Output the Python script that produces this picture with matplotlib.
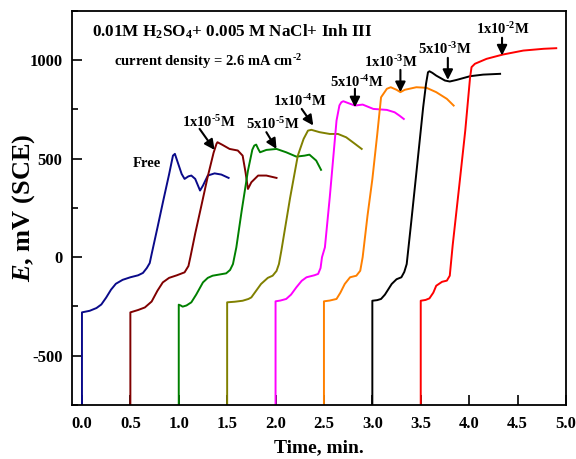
import numpy as np
import matplotlib
matplotlib.use('Agg')
import matplotlib.pyplot as plt
from matplotlib.ticker import MultipleLocator

#######################################################################
# Data (time in min, potential in mV vs SCE)

t_free = [0.0, 0.0, 0.08, 0.15, 0.2, 0.25, 0.3, 0.35, 0.42, 0.5, 0.58, 0.63, 0.67,
          0.70, 0.72, 0.78, 0.84, 0.90, 0.94, 0.96, 0.99, 1.03, 1.06, 1.10, 1.13,
          1.17, 1.22, 1.25, 1.30, 1.37, 1.44, 1.515]
e_free = [-750, -280, -272, -258, -240, -205, -165, -135, -115, -102, -92, -80, -55,
          -30, 16, 150, 287, 420, 515, 524, 480, 422, 397, 410, 414,
          397, 338, 363, 414, 425, 419, 402]

t_1e5 = [0.5, 0.5, 0.58, 0.65, 0.72, 0.78, 0.835, 0.9, 0.98, 1.06, 1.10, 1.12, 1.17,
         1.23, 1.30, 1.36, 1.39, 1.40, 1.45, 1.525, 1.61, 1.66, 1.69, 1.715, 1.75,
         1.82, 1.905, 2.01]
e_1e5 = [-750, -280, -268, -255, -225, -170, -128, -105, -92, -77, -45, 0, 120,
         253, 410, 530, 575, 583, 570, 549, 541, 515, 430, 346, 380,
         414, 414, 402]

t_5e5 = [1.0, 1.0, 1.02, 1.04, 1.08, 1.13, 1.18, 1.25, 1.30, 1.35, 1.42, 1.49, 1.53,
         1.56, 1.595, 1.65, 1.715, 1.76, 1.78, 1.80, 1.82, 1.84, 1.905, 2.01, 2.11,
         2.215, 2.30, 2.35, 2.42, 2.47]
e_5e5 = [-750, -241, -245, -251, -245, -229, -190, -128, -105, -94, -88, -82, -65,
         -35, 50, 235, 439, 545, 566, 571, 550, 532, 544, 549, 532,
         510, 515, 520, 490, 443]

t_1e4 = [1.5, 1.5, 1.58, 1.66, 1.72, 1.75, 1.80, 1.85, 1.92, 1.97, 2.01, 2.035, 2.06,
         2.15, 2.23, 2.29, 2.335, 2.37, 2.455, 2.56, 2.645, 2.73, 2.82, 2.89]
e_1e4 = [-750, -229, -226, -221, -212, -204, -170, -136, -105, -94, -70, -35, 33,
         300, 515, 600, 642, 646, 634, 625, 625, 608, 575, 549]

t_5e4 = [2.0, 2.0, 2.05, 2.11, 2.16, 2.215, 2.27, 2.32, 2.40, 2.44, 2.465, 2.48, 2.51,
         2.56, 2.63, 2.66, 2.68, 2.70, 2.77, 2.82, 2.90, 3.01, 3.15, 3.23, 3.28, 3.325]
e_5e4 = [-750, -224, -220, -212, -190, -153, -120, -102, -92, -85, -55, 0, 50,
         303, 693, 770, 786, 791, 778, 769, 774, 752, 747, 735, 718, 701]

t_1e3 = [2.5, 2.5, 2.56, 2.63, 2.67, 2.715, 2.77, 2.835, 2.875, 2.90, 2.95, 3.00,
         3.05, 3.09, 3.15, 3.19, 3.25, 3.29, 3.335, 3.455, 3.56, 3.66, 3.77, 3.84]
e_1e3 = [-750, -224, -220, -212, -180, -136, -102, -94, -69, 0, 210, 395,
         620, 811, 854, 862, 849, 837, 849, 862, 859, 837, 803, 769]

t_5e3 = [3.0, 3.0, 3.05, 3.09, 3.13, 3.20, 3.25, 3.30, 3.33, 3.355, 3.40, 3.45,
         3.525, 3.555, 3.575, 3.59, 3.62, 3.66, 3.75, 3.80, 3.87, 4.01, 4.145, 4.32]
e_5e3 = [-750, -221, -218, -212, -190, -136, -112, -102, -75, -35, 170, 405,
         760, 880, 938, 943, 935, 921, 896, 891, 899, 918, 926, 930]

t_1e2 = [3.5, 3.5, 3.55, 3.59, 3.63, 3.66, 3.72, 3.77, 3.80, 3.83, 3.90, 3.96,
         4.01, 4.025, 4.06, 4.18, 4.35, 4.56, 4.77, 4.90]
e_1e2 = [-750, -221, -217, -209, -180, -145, -125, -119, -94, 60, 371, 642,
         913, 964, 981, 1006, 1028, 1048, 1057, 1060]

# label text, text position, arrow tail, arrow head
labels = ['Free', r'1x10$^{\text{-5}}$M', r'5x10$^{\text{-5}}$M', r'1x10$^{\text{-4}}$M',
          r'5x10$^{\text{-4}}$M', r'1x10$^{\text{-3}}$M', r'5x10$^{\text{-3}}$M',
          r'1x10$^{\text{-2}}$M']
label_pos = [(0.67, 475), (1.31, 684), (1.975, 673), (2.25, 791),
             (2.84, 887), (3.19, 989), (3.75, 1057), (4.35, 1158)]
arrow_tail = [None, (1.215, 651), (1.905, 634), (2.27, 752),
              (2.82, 854), (3.29, 950), (3.78, 1011), (4.34, 1113)]
arrow_head = [None, (1.37, 544), (2.01, 549), (2.39, 668),
              (2.82, 760), (3.29, 837), (3.78, 899), (4.34, 1023)]

#######################################################################
# Style

plt.rcParams['font.family'] = 'Liberation Serif'
plt.rcParams['font.weight'] = 'bold'
plt.rcParams['mathtext.fontset'] = 'custom'
plt.rcParams['mathtext.rm'] = 'Liberation Serif:bold'
plt.rcParams['mathtext.it'] = 'Liberation Serif:italic:bold'
plt.rcParams['mathtext.bf'] = 'Liberation Serif:bold'
plt.rcParams['axes.unicode_minus'] = False

#######################################################################
# Plotting

fig = plt.figure(figsize=(5.76, 4.59), dpi=100)
ax = fig.add_axes([0.1255, 0.1176, 0.857, 0.859])

curves = [(t_free, e_free, '#0a0a8a'), (t_1e5, e_1e5, '#800000'),
          (t_5e5, e_5e5, '#008000'), (t_1e4, e_1e4, '#808000'),
          (t_5e4, e_5e4, '#ff00ff'), (t_1e3, e_1e3, '#ff8000'),
          (t_5e3, e_5e3, 'black'), (t_1e2, e_1e2, '#ff0000')]
for t, e, c in curves:
    ax.plot(t, e, color=c, lw=1.4)

for lab, pos, tail, head in zip(labels, label_pos, arrow_tail, arrow_head):
    ax.text(pos[0], pos[1], lab, ha='center', va='center',
            fontsize=10.5, fontweight='bold')
    if tail is not None:
        ax.annotate('', xy=head, xytext=tail,
                    arrowprops=dict(arrowstyle='-|>', color='black', lw=1.5,
                                    mutation_scale=15, shrinkA=0, shrinkB=0))

ax.text(0.04, 0.947, r'0.01M H$_2$SO$_4$+ 0.005 M NaCl+ Inh III',
        transform=ax.transAxes, fontsize=12.3, fontweight='bold', va='center')
ax.text(0.0845, 0.871, r'current density = 2.6 mA cm$^{\text{-2}}$',
        transform=ax.transAxes, fontsize=10.5, fontweight='bold', va='center')

ax.set_xlim(-0.1, 5.0)
ax.set_ylim(-750, 1250)
ax.set_xticks(np.arange(0, 5.01, 0.5))
ax.set_xticklabels([f'{v:.1f}' for v in np.arange(0, 5.01, 0.5)])
ax.set_yticks([-500, 0, 500, 1000])
ax.yaxis.set_minor_locator(MultipleLocator(250))
ax.tick_params(which='both', direction='in', width=1.2, labelsize=12)
ax.tick_params(which='major', length=7)
ax.tick_params(which='minor', length=4)
ax.tick_params(axis='y', pad=7)
ax.tick_params(axis='x', pad=8)
for s in ax.spines.values():
    s.set_linewidth(1.3)

ax.set_xlabel('Time, min.', fontsize=14, fontweight='bold', labelpad=5)
ax.set_ylabel(r'$E$, mV (SCE)', fontsize=19, fontweight='bold')
ax.yaxis.set_label_coords(-0.0715, 0.5)

fig.savefig('out.png', dpi=100)
